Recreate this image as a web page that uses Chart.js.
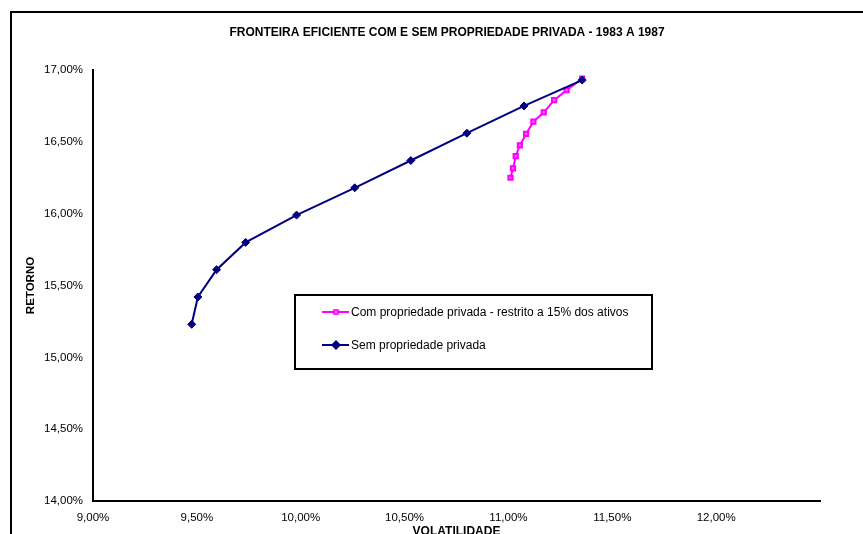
<!DOCTYPE html>
<html>
<head>
<meta charset="utf-8">
<script src="https://cdn.jsdelivr.net/npm/chart.js@4/dist/chart.umd.min.js"></script>
<style>
  html, body { margin: 0; padding: 0; background: #fff; }
  canvas { display: block; }
</style>
</head>
<body>
<canvas id="c" width="863" height="534"></canvas>
<script>
const chartTitle = 'FRONTEIRA EFICIENTE COM E SEM PROPRIEDADE PRIVADA - 1983 A 1987';
const xAxisTitle = 'VOLATILIDADE';
const yAxisTitle = 'RETORNO';
const seriesNames = ['Com propriedade privada - restrito a 15% dos ativos', 'Sem propriedade privada'];

// Volatility (x) and return (y), both in percent
const comVol = [11.01, 11.022, 11.035, 11.055, 11.085, 11.12, 11.17, 11.22, 11.28, 11.355];
const comRet = [16.25, 16.315, 16.40, 16.475, 16.555, 16.64, 16.705, 16.79, 16.86, 16.94];
const semVol = [9.475, 9.505, 9.595, 9.735, 9.98, 10.26, 10.53, 10.80, 11.075, 11.355];
const semRet = [15.23, 15.42, 15.61, 15.80, 15.99, 16.18, 16.37, 16.56, 16.75, 16.93];

const xTickValues = [9, 9.5, 10, 10.5, 11, 11.5, 12];
const yTickValues = [14, 14.5, 15, 15.5, 16, 16.5, 17];

const FONT = '"Liberation Sans", Arial, sans-serif';
const pct = v => v.toFixed(2).replace('.', ',') + '%';
const toPoints = (xs, ys) => xs.map((x, i) => ({ x: x, y: ys[i] }));

// Outer frame, heading, white background and the boxed legend inside the plot
const decorations = {
  id: 'decorations',
  beforeDraw(chart) {
    const ctx = chart.ctx;
    ctx.save();
    ctx.fillStyle = '#fff';
    ctx.fillRect(0, 0, chart.width, chart.height);
    ctx.restore();
  },
  afterDraw(chart) {
    const ctx = chart.ctx;
    ctx.save();
    // frame around the whole chart
    ctx.strokeStyle = '#000';
    ctx.lineWidth = 2;
    ctx.strokeRect(11, 12, 900, 600);

    // heading
    ctx.fillStyle = '#000';
    ctx.font = 'bold 12px ' + FONT;
    ctx.textAlign = 'center';
    ctx.textBaseline = 'middle';
    ctx.fillText(chartTitle, 447, 33);

    // legend box
    ctx.fillStyle = '#fff';
    ctx.fillRect(295, 295, 357, 74);
    ctx.strokeRect(295, 295, 357, 74);

    const rows = [312, 345];
    chart.data.datasets.forEach((ds, i) => {
      const y = rows[i];
      ctx.strokeStyle = ds.borderColor;
      ctx.lineWidth = 2;
      ctx.beginPath();
      ctx.moveTo(322, y);
      ctx.lineTo(349, y);
      ctx.stroke();
      ctx.fillStyle = ds.pointBackgroundColor;
      ctx.strokeStyle = ds.pointBorderColor;
      ctx.lineWidth = 1.5;
      Chart.helpers.drawPoint(ctx, {
        pointStyle: ds.pointStyle,
        radius: ds.pointStyle === 'rect' ? 3 : 4,
        borderWidth: 1.5,
        rotation: 0
      }, 336, y);
      ctx.fillStyle = '#000';
      ctx.font = '12px ' + FONT;
      ctx.textAlign = 'left';
      ctx.textBaseline = 'middle';
      ctx.fillText(ds.label, 351, y + 0.5);
    });
    ctx.restore();
  }
};

new Chart(document.getElementById('c'), {
  type: 'scatter',
  data: {
    datasets: [
      {
        label: seriesNames[0],
        data: toPoints(comVol, comRet),
        showLine: true,
        borderColor: '#FF00FF',
        borderWidth: 2,
        pointStyle: 'rect',
        pointRadius: 3,
        pointBackgroundColor: '#FF66FF',
        pointBorderColor: '#FF00FF',
        pointBorderWidth: 2,
        order: 2
      },
      {
        label: seriesNames[1],
        data: toPoints(semVol, semRet),
        showLine: true,
        borderColor: '#000080',
        borderWidth: 2,
        pointStyle: 'rectRot',
        pointRadius: 4,
        pointBackgroundColor: '#000080',
        pointBorderColor: '#000080',
        pointBorderWidth: 1,
        order: 1
      }
    ]
  },
  plugins: [decorations],
  options: {
    responsive: false,
    animation: false,
    devicePixelRatio: 1,
    layout: { padding: { left: 0, right: 43, top: 70, bottom: 0 } },
    plugins: {
      legend: { display: false },
      tooltip: { enabled: false },
      title: { display: false }
    },
    scales: {
      x: {
        type: 'linear',
        min: 9,
        max: 12.5,
        afterBuildTicks: s => { s.ticks = xTickValues.map(v => ({ value: v })); },
        afterFit: s => { s.height = 33; },
        grid: { display: true, drawOnChartArea: false, drawTicks: false },
        border: { display: true, color: '#000', width: 2 },
        ticks: {
          color: '#000',
          padding: 10,
          maxRotation: 0,
          autoSkip: false,
          font: { family: FONT, size: 11.5 },
          callback: v => pct(v)
        },
        title: {
          display: true,
          text: xAxisTitle,
          color: '#000',
          font: { family: FONT, size: 12, weight: 'bold' },
          padding: { top: 0, bottom: -5 }
        }
      },
      y: {
        type: 'linear',
        min: 14,
        max: 17,
        afterBuildTicks: s => { s.ticks = yTickValues.map(v => ({ value: v })); },
        afterFit: s => { s.width = 93; },
        grid: { display: true, drawOnChartArea: false, drawTicks: false },
        border: { display: true, color: '#000', width: 2 },
        ticks: {
          color: '#000',
          padding: 10,
          autoSkip: false,
          font: { family: FONT, size: 11.5 },
          callback: v => pct(v)
        },
        title: {
          display: true,
          text: yAxisTitle,
          color: '#000',
          font: { family: FONT, size: 11.5, weight: 'bold' },
          padding: { top: 24, bottom: 0 }
        }
      }
    }
  }
});
</script>
</body>
</html>
